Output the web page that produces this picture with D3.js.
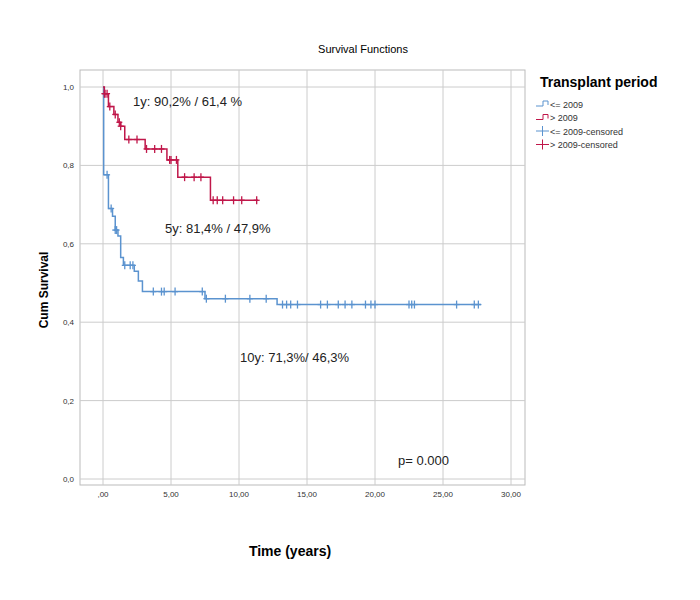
<!DOCTYPE html>
<html><head><meta charset="utf-8">
<script src="https://cdn.jsdelivr.net/npm/d3@7"></script>
<style>body{margin:0;background:#fff}text{font-family:"Liberation Sans",Arial,sans-serif}</style>
</head><body>
<svg id="chart" width="700" height="600"></svg>
<script>
// step curves: [time, survival]
const recentSteps = [[0,1],[0.1,0.983],[0.4,0.95],[0.8,0.93],[1.1,0.91],[1.3,0.9],[1.6,0.866],[3.1,0.842],[4.7,0.814],[5.5,0.77],[7.9,0.711],[11.4,0.711]];
const recentCensored = [0.1,0.15,0.3,0.5,0.9,1.2,1.3,1.9,2.5,3.2,3.8,4.3,4.9,5.0,5.4,6.0,6.7,7.2,8.1,8.4,8.8,9.6,10.2,11.3];
const earlySteps = [[0,1],[0.05,0.776],[0.4,0.69],[0.7,0.67],[0.9,0.635],[1.1,0.62],[1.3,0.565],[1.5,0.545],[2.3,0.53],[2.6,0.505],[2.9,0.478],[7.5,0.46],[12.8,0.445],[27.8,0.445]];
const earlyCensored = [0.3,0.6,0.9,1.0,1.6,2.0,2.2,3.7,4.3,4.5,5.3,7.3,7.6,9.0,10.8,12.0,13.2,13.5,13.8,14.3,16.0,16.5,17.3,17.8,18.3,19.3,19.7,20.0,22.5,22.7,22.9,26.0,27.3,27.6];
const xTicks = [0,5,10,15,20,25,30];
const xTickLabels = [",00","5,00","10,00","15,00","20,00","25,00","30,00"];
const yTicks = [0,0.2,0.4,0.6,0.8,1.0];
const yTickLabels = ["0,0","0,2","0,4","0,6","0,8","1,0"];
const legendLabels = ["<= 2009","> 2009","<= 2009-censored","> 2009-censored"];
const blue = "#5b93cf", red = "#c0174a";

const svg = d3.select("#chart");
const x = d3.scaleLinear().domain([0,30]).range([103,511]);
const y = d3.scaleLinear().domain([0,1]).range([479,87]);

// frame + grid
svg.append("rect").attr("x",80).attr("y",70).attr("width",445).attr("height",415)
  .attr("fill","none").attr("stroke","#bbb");
svg.selectAll(".gx").data(xTicks).enter().append("line")
  .attr("x1",d=>x(d)).attr("x2",d=>x(d)).attr("y1",70).attr("y2",485).attr("stroke","#ccc");
svg.selectAll(".gy").data(yTicks).enter().append("line")
  .attr("x1",80).attr("x2",525).attr("y1",d=>y(d)).attr("y2",d=>y(d)).attr("stroke","#ccc");

svg.selectAll(".xl").data(xTicks).enter().append("text")
  .attr("x",d=>x(d)).attr("y",497).attr("text-anchor","middle").attr("font-size",8).attr("fill","#333")
  .text((d,i)=>xTickLabels[i]);
svg.selectAll(".yl").data(yTicks).enter().append("text")
  .attr("x",74).attr("y",d=>y(d)+3).attr("text-anchor","end").attr("font-size",8).attr("fill","#333")
  .text((d,i)=>yTickLabels[i]);

const line = d3.line().x(d=>x(d[0])).y(d=>y(d[1])).curve(d3.curveStepAfter);
function survAt(steps,t){ let v=steps[0][1]; steps.forEach(s=>{ if(s[0]<=t) v=s[1]; }); return v; }

function drawCurve(steps,cens,col){
  svg.append("path").attr("d",line(steps)).attr("fill","none").attr("stroke",col).attr("stroke-width",1.5);
  const g = svg.append("g");
  cens.forEach(t=>{
    const cx=x(t), cy=y(survAt(steps,t));
    g.append("line").attr("x1",cx-3).attr("x2",cx+3).attr("y1",cy).attr("y2",cy).attr("stroke",col).attr("stroke-width",1.3);
    g.append("line").attr("x1",cx).attr("x2",cx).attr("y1",cy-4).attr("y2",cy+4).attr("stroke",col).attr("stroke-width",1.3);
  });
}
drawCurve(earlySteps,earlyCensored,blue);
drawCurve(recentSteps,recentCensored,red);

// texts
svg.append("text").attr("x",363).attr("y",53).attr("text-anchor","middle").attr("font-size",11).text("Survival Functions");
svg.append("text").attr("transform","translate(48,290) rotate(-90)").attr("text-anchor","middle")
  .attr("font-size",12).attr("font-weight","bold").text("Cum Survival");
svg.append("text").attr("x",290).attr("y",556).attr("text-anchor","middle").attr("font-size",14).attr("font-weight","bold").text("Time (years)");
const notes = [["1y: 90,2% / 61,4 %",133,106],["5y: 81,4% / 47,9%",165,233],["10y:  71,3%/ 46,3%",240,362],["p= 0.000",398,465]];
notes.forEach(n=>svg.append("text").attr("x",n[1]).attr("y",n[2]).attr("font-size",13).attr("fill","#222")
  .attr("transform",`scale(0.92,1) `).attr("transform",null).text(n[0]));

// legend
svg.append("text").attr("x",540).attr("y",87).attr("font-size",14).attr("font-weight","bold").text("Transplant period");
const cols=[blue,red,blue,red];
legendLabels.forEach((l,i)=>{
  const ly=104+i*13.5, c=cols[i];
  if(i<2){
    svg.append("path").attr("d",`M536,${ly+2}H543V${ly-3}H548V${ly+1}`).attr("fill","none").attr("stroke",c);
  } else {
    svg.append("line").attr("x1",536).attr("x2",549).attr("y1",ly).attr("y2",ly).attr("stroke",c);
    svg.append("line").attr("x1",542.5).attr("x2",542.5).attr("y1",ly-5).attr("y2",ly+5).attr("stroke",c);
  }
  svg.append("text").attr("x",550).attr("y",ly+3.5).attr("font-size",9).attr("fill","#333").text(l);
});
</script>
</body></html>
